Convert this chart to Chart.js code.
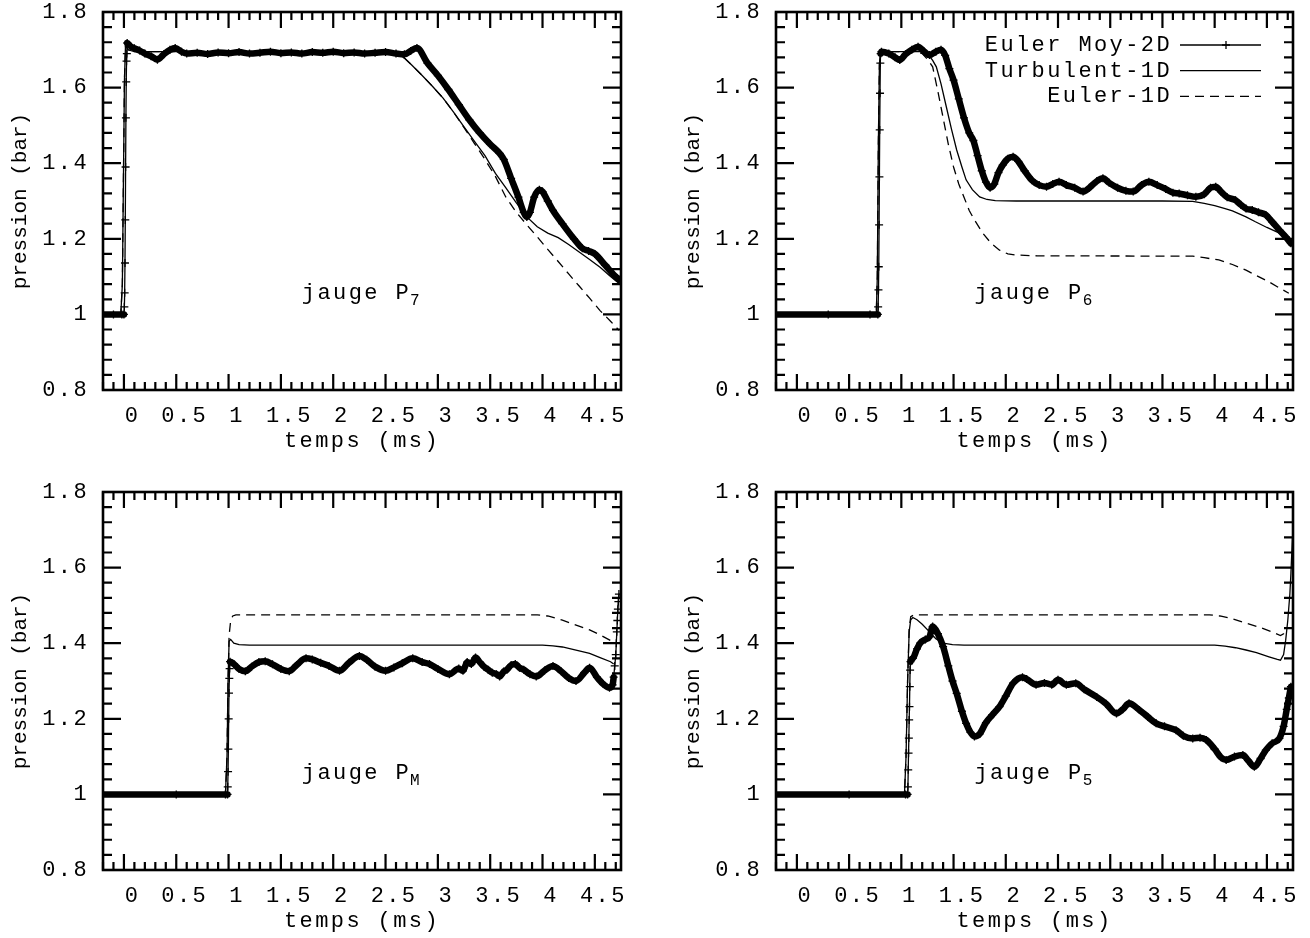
<!DOCTYPE html>
<html>
<head>
<meta charset="utf-8">
<title>pression aux jauges</title>
<script src="https://cdn.jsdelivr.net/npm/chart.js@4/dist/chart.umd.min.js"></script>
<style>
  body { margin: 0; background: #fff; overflow: hidden; }
  #wrap { position: relative; width: 1310px; height: 938px; overflow: hidden; }
  canvas { position: absolute; }
</style>
</head>
<body>
<div id="wrap">
  <canvas id="c7" width="655" height="480" style="left:0;top:0"></canvas>
  <canvas id="c6" width="637" height="480" style="left:673px;top:0"></canvas>
  <canvas id="cM" width="655" height="480" style="left:0;top:480px"></canvas>
  <canvas id="c5" width="637" height="480" style="left:673px;top:480px"></canvas>
</div>
<script>
// series names (key order), axis titles and ticks
const seriesNames = ['Euler Moy-2D', 'Turbulent-1D', 'Euler-1D'];
const xTitle = 'temps (ms)';
const yTitle = 'pression (bar)';
const xTicks = [0, 0.5, 1, 1.5, 2, 2.5, 3, 3.5, 4, 4.5];
const yTicks = [0.8, 1, 1.2, 1.4, 1.6, 1.8];

// [temps (ms), pression (bar)]
// jauge P7
const p7Euler2D = [[-0.2,1.0],[-0.1,1.0],[-0.02,1.0],[0.0,1.0],[0.004,1.02],[0.007,1.057],[0.010,1.136],[0.013,1.25],[0.016,1.39],[0.019,1.52],[0.022,1.615],[0.025,1.67],[0.028,1.69],[0.031,1.718],
  [0.06,1.71],[0.1,1.704],[0.15,1.698],[0.2,1.69],[0.26,1.683],[0.32,1.674],[0.38,1.688],[0.44,1.70],[0.49,1.705],[0.55,1.695],[0.6,1.69],[0.7,1.692],[0.8,1.689],[0.9,1.693],[1.0,1.691],[1.1,1.694],[1.2,1.69],[1.3,1.692],[1.4,1.695],[1.5,1.691],[1.6,1.693],[1.7,1.69],[1.8,1.694],[1.9,1.692],[2.0,1.695],[2.1,1.691],[2.2,1.693],[2.3,1.69],[2.4,1.692],[2.5,1.694],[2.6,1.69],[2.68,1.688],[2.74,1.697],[2.8,1.705],
  [2.9,1.665],[3.0,1.632],[3.1,1.595],[3.2,1.555],[3.3,1.515],[3.4,1.48],[3.5,1.45],[3.59,1.426],[3.63,1.41],[3.7,1.36],[3.77,1.31],[3.82,1.27],[3.85,1.258],[3.88,1.27],[3.92,1.31],[3.97,1.33],[4.0,1.325],[4.05,1.30],[4.1,1.275],[4.19,1.24],[4.3,1.20],[4.38,1.175],[4.44,1.168],[4.5,1.16],[4.6,1.13],[4.68,1.105],[4.73,1.092]];
const p7Turbulent = [[-0.2,1.0],[-0.03,1.0],[-0.015,1.08],[-0.005,1.35],[0.005,1.62],[0.015,1.712],[0.04,1.70],[0.1,1.695],[2.55,1.695],[2.62,1.69],[2.68,1.678],[2.75,1.66],[2.85,1.632],[2.95,1.603],[3.05,1.572],[3.15,1.535],[3.25,1.496],[3.35,1.458],[3.45,1.42],[3.55,1.373],[3.65,1.335],[3.75,1.295],[3.85,1.258],[3.95,1.232],[4.05,1.215],[4.15,1.203],[4.25,1.185],[4.35,1.165],[4.45,1.145],[4.55,1.125],[4.65,1.10],[4.75,1.078]];
const p7Euler1D = [[-0.2,1.0],[-0.03,1.0],[-0.015,1.08],[-0.005,1.35],[0.005,1.62],[0.015,1.712],[0.04,1.70],[0.1,1.695],[2.55,1.695],[2.62,1.69],[2.68,1.678],[2.75,1.66],[2.85,1.632],[2.95,1.603],[3.05,1.572],[3.15,1.535],[3.25,1.494],[3.35,1.452],[3.45,1.41],[3.55,1.365],[3.65,1.31],[3.75,1.27],[3.85,1.237],[3.95,1.205],[4.05,1.172],[4.15,1.14],[4.25,1.107],[4.35,1.075],[4.45,1.043],[4.55,1.01],[4.65,0.982],[4.73,0.958]];

// jauge P6
const p6Euler2D = [[-0.2,1.0],[0.3,1.0],[0.7,1.0],[0.775,1.0],[0.778,1.02],[0.781,1.065],[0.784,1.126],[0.787,1.237],[0.790,1.364],[0.793,1.488],[0.796,1.585],[0.799,1.665],[0.802,1.69],[0.81,1.695],
  [0.88,1.69],[0.94,1.68],[0.985,1.673],[1.04,1.688],[1.1,1.70],[1.16,1.708],[1.22,1.695],[1.27,1.686],[1.33,1.695],[1.38,1.70],[1.42,1.685],[1.46,1.65],[1.50,1.62],[1.55,1.57],[1.60,1.52],[1.65,1.48],[1.69,1.46],[1.73,1.42],[1.77,1.38],[1.81,1.35],[1.85,1.335],[1.89,1.345],[1.93,1.375],[1.97,1.395],[2.02,1.412],[2.07,1.417],[2.12,1.405],[2.18,1.38],[2.25,1.355],[2.32,1.342],[2.39,1.338],[2.45,1.345],[2.51,1.351],[2.58,1.342],[2.66,1.335],[2.74,1.325],[2.8,1.335],[2.87,1.352],[2.93,1.36],[2.99,1.348],[3.07,1.335],[3.15,1.327],[3.22,1.325],[3.3,1.342],[3.37,1.351],[3.45,1.342],[3.53,1.332],[3.6,1.322],[3.66,1.32],[3.74,1.315],[3.82,1.311],[3.9,1.318],[3.96,1.335],[4.01,1.338],[4.06,1.325],[4.12,1.31],[4.2,1.302],[4.25,1.29],[4.3,1.28],[4.36,1.276],[4.42,1.27],[4.49,1.263],[4.55,1.245],[4.62,1.223],[4.68,1.205],[4.73,1.188]];
const p6Turbulent = [[-0.2,1.0],[0.76,1.0],[0.77,1.1],[0.78,1.45],[0.79,1.66],[0.80,1.70],[0.83,1.698],[0.9,1.695],[1.2,1.695],[1.25,1.69],[1.3,1.672],[1.335,1.655],[1.38,1.61],[1.43,1.55],[1.48,1.49],[1.53,1.435],[1.58,1.39],[1.62,1.356],[1.68,1.33],[1.75,1.311],[1.82,1.304],[1.9,1.301],[2.1,1.30],[3.5,1.30],[3.79,1.299],[3.9,1.294],[4.0,1.288],[4.1,1.28],[4.17,1.274],[4.3,1.258],[4.39,1.245],[4.5,1.23],[4.62,1.215],[4.73,1.192]];
const p6Euler1D = [[-0.2,1.0],[0.76,1.0],[0.77,1.1],[0.78,1.45],[0.79,1.66],[0.80,1.70],[0.83,1.698],[0.9,1.695],[1.15,1.695],[1.2,1.69],[1.25,1.675],[1.3,1.655],[1.35,1.59],[1.4,1.52],[1.45,1.45],[1.5,1.39],[1.55,1.345],[1.6,1.31],[1.65,1.275],[1.7,1.25],[1.78,1.215],[1.86,1.188],[1.94,1.17],[2.02,1.16],[2.1,1.157],[2.3,1.155],[3.79,1.154],[3.9,1.15],[4.04,1.144],[4.17,1.132],[4.3,1.117],[4.42,1.10],[4.52,1.086],[4.62,1.07],[4.71,1.056]];

// jauge PM
const pmEuler2D = [[-0.2,1.0],[0.5,1.0],[0.97,1.0],[0.99,1.0],[0.992,1.02],[0.995,1.06],[0.998,1.12],[1.001,1.20],[1.004,1.268],[1.007,1.307],[1.01,1.333],[1.014,1.351],
  [1.05,1.345],[1.1,1.332],[1.16,1.326],[1.22,1.338],[1.29,1.35],[1.35,1.352],[1.42,1.344],[1.5,1.332],[1.58,1.326],[1.65,1.342],[1.74,1.36],[1.8,1.357],[1.88,1.348],[1.96,1.34],[2.06,1.327],[2.15,1.348],[2.25,1.366],[2.32,1.356],[2.4,1.338],[2.5,1.327],[2.58,1.336],[2.66,1.347],[2.76,1.36],[2.85,1.35],[2.92,1.345],[3.0,1.332],[3.11,1.318],[3.2,1.333],[3.24,1.327],[3.28,1.35],[3.32,1.345],[3.36,1.362],[3.4,1.35],[3.44,1.338],[3.48,1.33],[3.52,1.322],[3.56,1.318],[3.59,1.312],[3.63,1.325],[3.66,1.33],[3.7,1.342],[3.74,1.345],[3.78,1.335],[3.82,1.33],[3.88,1.318],[3.94,1.312],[4.02,1.328],[4.1,1.34],[4.18,1.325],[4.25,1.308],[4.32,1.3],[4.4,1.322],[4.45,1.335],[4.52,1.31],[4.58,1.292],[4.64,1.282],[4.67,1.29],
  [4.68,1.31],[4.69,1.34],[4.70,1.37],[4.705,1.40],[4.71,1.43],[4.715,1.46],[4.72,1.49],[4.725,1.51],[4.73,1.53]];
const pmTurbulent = [[-0.2,1.0],[0.97,1.0],[0.985,1.1],[0.995,1.3],[1.005,1.405],[1.02,1.41],[1.05,1.4],[1.1,1.396],[1.2,1.395],[4.0,1.395],[4.1,1.393],[4.19,1.39],[4.3,1.383],[4.45,1.373],[4.55,1.362],[4.65,1.351],[4.68,1.345]];
const pmEuler1D = [[-0.2,1.0],[0.97,1.0],[0.985,1.1],[0.995,1.3],[1.005,1.42],[1.02,1.46],[1.04,1.472],[1.07,1.475],[3.95,1.475],[4.05,1.472],[4.19,1.461],[4.3,1.45],[4.45,1.435],[4.55,1.422],[4.67,1.404],[4.7,1.40]];

// jauge P5
const p5Euler2D = [[-0.2,1.0],[0.5,1.0],[1.04,1.0],[1.06,1.0],[1.063,1.02],[1.066,1.065],[1.069,1.109],[1.072,1.149],[1.075,1.197],[1.078,1.232],[1.081,1.285],[1.084,1.329],[1.088,1.351],
  [1.11,1.36],[1.15,1.385],[1.18,1.40],[1.23,1.41],[1.27,1.417],[1.3,1.444],[1.35,1.425],[1.4,1.391],[1.45,1.34],[1.49,1.30],[1.53,1.267],[1.58,1.22],[1.62,1.188],[1.66,1.165],[1.70,1.153],[1.75,1.16],[1.81,1.19],[1.87,1.21],[1.94,1.232],[2.0,1.26],[2.07,1.294],[2.16,1.31],[2.2,1.305],[2.29,1.29],[2.37,1.295],[2.44,1.29],[2.5,1.303],[2.58,1.29],[2.67,1.294],[2.75,1.278],[2.87,1.258],[2.96,1.24],[3.06,1.214],[3.12,1.225],[3.18,1.241],[3.28,1.223],[3.36,1.205],[3.44,1.188],[3.52,1.18],[3.63,1.17],[3.7,1.155],[3.79,1.148],[3.86,1.15],[3.92,1.144],[4.0,1.12],[4.06,1.098],[4.11,1.091],[4.19,1.1],[4.27,1.104],[4.32,1.09],[4.38,1.073],[4.44,1.095],[4.49,1.117],[4.55,1.135],[4.62,1.148],[4.66,1.18],[4.69,1.225],[4.71,1.255],[4.73,1.285]];
const p5Turbulent = [[-0.2,1.0],[1.03,1.0],[1.045,1.1],[1.06,1.3],[1.075,1.43],[1.09,1.462],[1.11,1.468],[1.15,1.462],[1.2,1.45],[1.27,1.43],[1.33,1.412],[1.4,1.40],[1.49,1.396],[1.6,1.395],[4.0,1.395],[4.1,1.392],[4.2,1.388],[4.3,1.382],[4.4,1.375],[4.52,1.364],[4.6,1.357],[4.63,1.355],[4.66,1.37],[4.68,1.408],[4.7,1.46],[4.72,1.53],[4.73,1.585],[4.745,1.68]];
const p5Euler1D = [[-0.2,1.0],[1.03,1.0],[1.045,1.1],[1.06,1.3],[1.075,1.44],[1.09,1.47],[1.12,1.475],[3.95,1.475],[4.05,1.472],[4.15,1.466],[4.3,1.453],[4.42,1.443],[4.55,1.43],[4.63,1.42],[4.66,1.425],[4.69,1.44]];

const FONT = 'Liberation Mono';
const SPACING = '2.4px';
Chart.defaults.font.family = FONT;
Chart.defaults.font.size = 22;
Chart.defaults.color = '#000';

const toXY = arr => arr.map(([t, p]) => ({x: t, y: p}));

// near-vertical pieces of the 2D curve are drawn thin so the + marks show
const steep = c => {
  const dx = Math.abs(c.p1.x - c.p0.x), dy = Math.abs(c.p1.y - c.p0.y);
  return dy > 6 && dy > 8 * dx;
};

// gnuplot style frame: inward ticks on all four sides, y title, gauge label, key
const frame = {
  id: 'frame',
  beforeUpdate(chart) { chart.ctx.letterSpacing = SPACING; },
  beforeDraw(chart) { chart.ctx.letterSpacing = SPACING; },
  afterDatasetsDraw(chart, args, opts) {
    const {ctx, chartArea: a, scales: {x, y}} = chart;
    ctx.save();
    ctx.strokeStyle = '#000';
    ctx.fillStyle = '#000';
    ctx.lineWidth = 2.2;
    ctx.beginPath();
    for (let i = -2; i <= 47; i++) {
      const px = x.getPixelForValue(i / 10);
      const len = i % 5 === 0 ? 16 : 8;
      ctx.moveTo(px, a.bottom); ctx.lineTo(px, a.bottom - len);
      ctx.moveTo(px, a.top); ctx.lineTo(px, a.top + len);
    }
    for (let i = 20; i <= 45; i++) {
      const py = y.getPixelForValue(i * 0.04);
      const len = i % 5 === 0 ? 18 : 9;
      ctx.moveTo(a.left, py); ctx.lineTo(a.left + len, py);
      ctx.moveTo(a.right, py); ctx.lineTo(a.right - len, py);
    }
    ctx.stroke();
    ctx.lineWidth = 2.6;
    ctx.strokeRect(a.left, a.top, a.right - a.left, a.bottom - a.top);

    // y axis title, set tighter than the tick labels
    ctx.save();
    ctx.letterSpacing = '0px';
    ctx.font = '21px "' + FONT + '"';
    ctx.textAlign = 'center';
    ctx.textBaseline = 'middle';
    ctx.translate(a.left - 83, (a.top + a.bottom) / 2);
    ctx.rotate(-Math.PI / 2);
    ctx.fillText(yTitle, 0, 0);
    ctx.restore();

    // gauge name with subscript
    ctx.letterSpacing = SPACING;
    ctx.textAlign = 'left';
    ctx.textBaseline = 'alphabetic';
    ctx.font = '22px "' + FONT + '"';
    const gx = x.getPixelForValue(1.7), gy = y.getPixelForValue(1.04);
    ctx.fillText('jauge P', gx, gy);
    const w = ctx.measureText('jauge P').width;
    ctx.font = '16px "' + FONT + '"';
    ctx.letterSpacing = '1px';
    ctx.fillText(opts.gauge, gx + w - 1, gy + 6);

    if (opts.key) {
      ctx.font = '22px "' + FONT + '"';
      ctx.letterSpacing = SPACING;
      ctx.textAlign = 'right';
      ctx.textBaseline = 'middle';
      ctx.lineWidth = 1.3;
      seriesNames.forEach((name, i) => {
        const ly = a.top + 33 + i * 25.7;
        ctx.fillText(name, a.right - 121, ly);
        ctx.beginPath();
        ctx.setLineDash(i === 2 ? [9, 6] : []);
        ctx.moveTo(a.right - 113, ly);
        ctx.lineTo(a.right - 32, ly);
        ctx.stroke();
        ctx.setLineDash([]);
        if (i === 0) {
          const cx = a.right - 67;
          ctx.beginPath();
          ctx.moveTo(cx, ly - 4); ctx.lineTo(cx, ly + 4);
          ctx.moveTo(cx - 4, ly); ctx.lineTo(cx + 4, ly);
          ctx.stroke();
        }
      });
    }
    ctx.restore();
  }
};

function gaugeChart(id, gauge, euler2d, turb, euler1d, rightPad, key) {
  return new Chart(document.getElementById(id), {
    type: 'line',
    data: {
      datasets: [{
        label: seriesNames[1],
        data: toXY(turb),
        borderColor: '#000',
        borderWidth: 1.3,
        pointRadius: 0,
        order: 1
      }, {
        label: seriesNames[2],
        data: toXY(euler1d),
        borderColor: '#000',
        borderWidth: 1.3,
        borderDash: [9, 6],
        pointRadius: 0,
        order: 2
      }, {
        label: seriesNames[0],
        data: toXY(euler2d),
        borderColor: '#000',
        borderWidth: 6.5,
        borderJoinStyle: 'round',
        borderCapStyle: 'round',
        cubicInterpolationMode: 'monotone',
        pointStyle: 'cross',
        pointRadius: 4,
        pointBorderWidth: 1.3,
        pointBorderColor: '#000',
        order: 3,
        segment: { borderWidth: c => steep(c) ? 1.3 : 6.5 }
      }]
    },
    options: {
      responsive: false,
      animation: false,
      devicePixelRatio: 1,
      layout: { padding: { top: 12, right: rightPad, left: 0, bottom: 0 } },
      elements: { line: { tension: 0 } },
      plugins: {
        legend: { display: false },
        tooltip: { enabled: false },
        frame: { gauge: gauge, key: key }
      },
      scales: {
        x: {
          type: 'linear',
          min: -0.2,
          max: 4.75,
          grid: { display: false, drawTicks: false },
          border: { display: false },
          afterBuildTicks: s => { s.ticks = xTicks.map(v => ({value: v})); },
          afterFit: s => { s.height = 90; s.paddingLeft = 0; s.paddingRight = 0; },
          ticks: { padding: 13, labelOffset: 8.5, maxRotation: 0, autoSkip: false, callback: v => String(v) },
          title: { display: true, text: xTitle, padding: { top: 0, bottom: 26 } }
        },
        y: {
          type: 'linear',
          min: 0.8,
          max: 1.8,
          grid: { display: false, drawTicks: false },
          border: { display: false },
          afterBuildTicks: s => { s.ticks = yTicks.map(v => ({value: v})); },
          afterFit: s => { s.width = 103; s.paddingTop = 0; s.paddingBottom = 0; },
          ticks: { padding: 14, autoSkip: false, callback: v => String(v) },
          title: { display: false }
        }
      }
    },
    plugins: [frame]
  });
}

gaugeChart('c7', '7', p7Euler2D, p7Turbulent, p7Euler1D, 34, false);
gaugeChart('c6', '6', p6Euler2D, p6Turbulent, p6Euler1D, 17, true);
gaugeChart('cM', 'M', pmEuler2D, pmTurbulent, pmEuler1D, 34, false);
gaugeChart('c5', '5', p5Euler2D, p5Turbulent, p5Euler1D, 17, false);
</script>
</body>
</html>
